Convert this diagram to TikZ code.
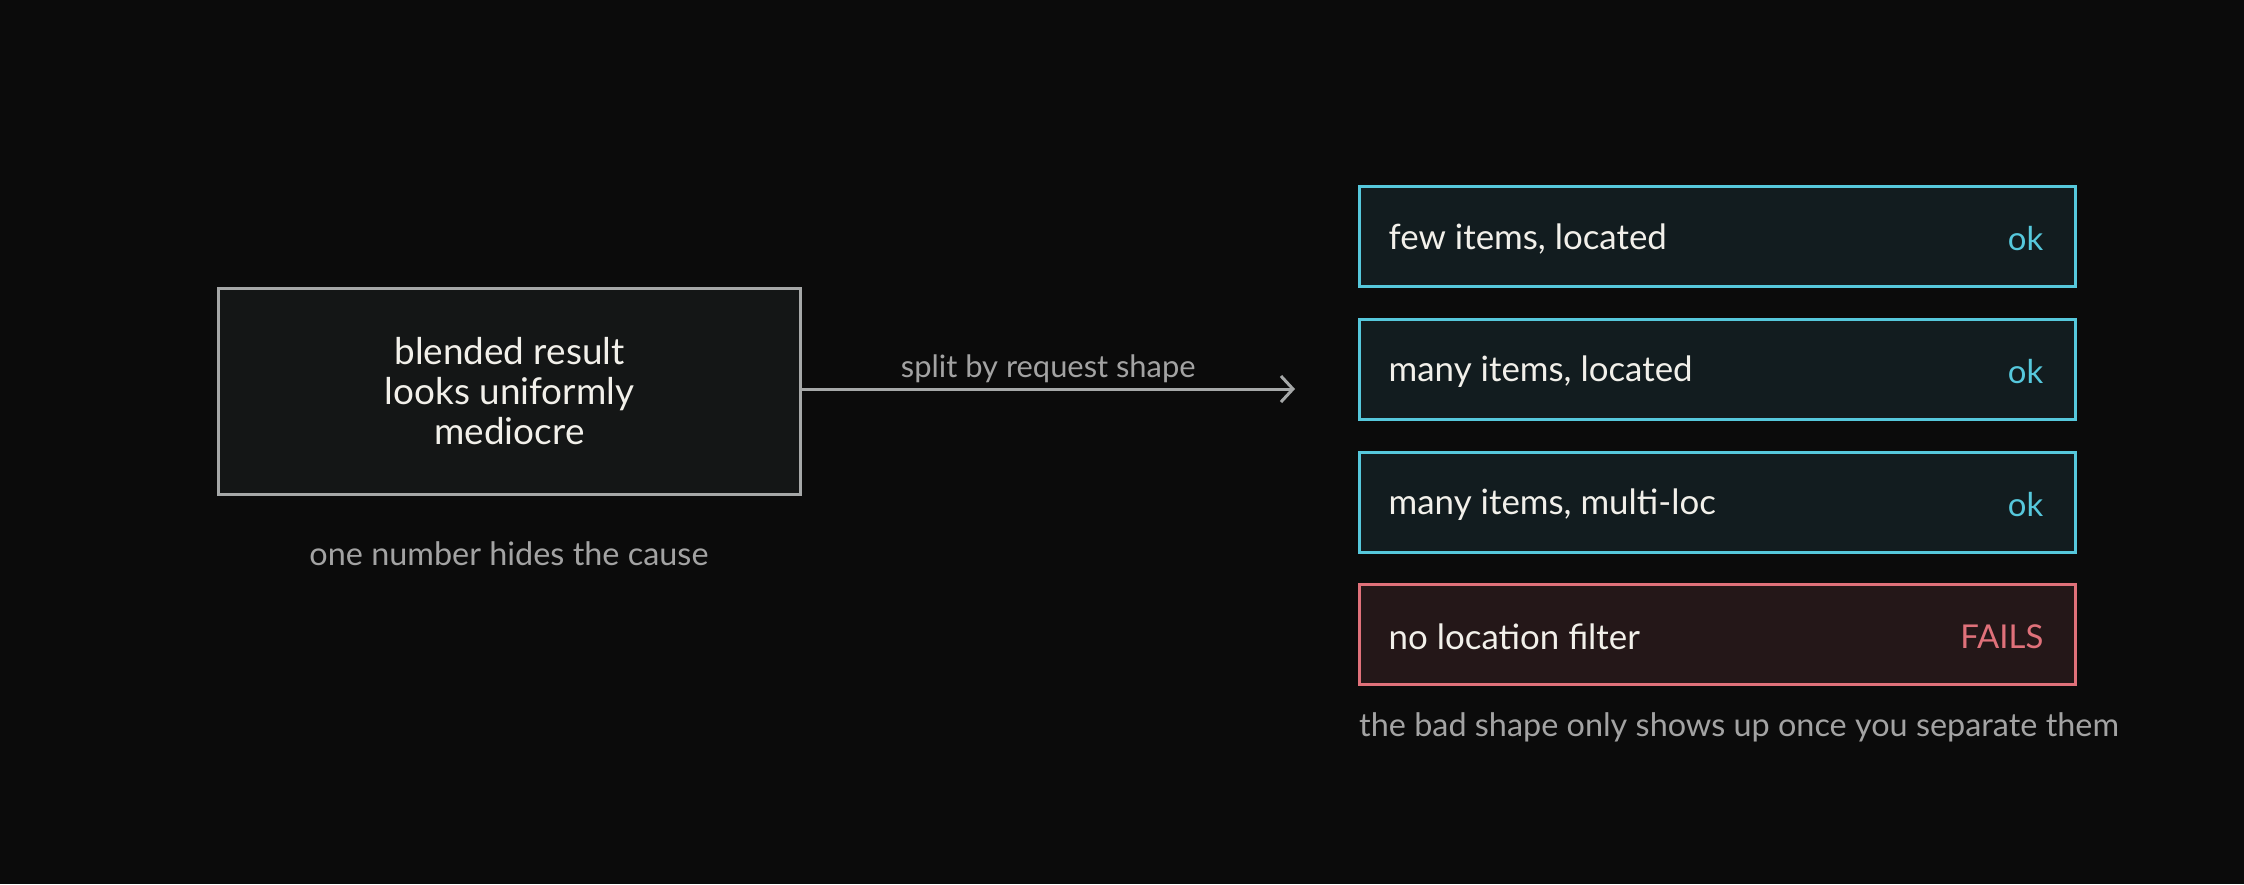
\documentclass[tikz,border=0pt]{standalone}
\usepackage{fontspec}
\setmainfont{Lato}
\usetikzlibrary{arrows.meta}
\definecolor{bg}{HTML}{0B0B0B}
\definecolor{grayline}{HTML}{A6A8A8}
\definecolor{grayfill}{HTML}{141616}
\definecolor{cyanline}{HTML}{56C8DC}
\definecolor{cyanfill}{HTML}{121C1F}
\definecolor{redline}{HTML}{E0717A}
\definecolor{redfill}{HTML}{241718}
\definecolor{maintext}{HTML}{F2F0EA}
\definecolor{captext}{HTML}{A3A3A3}
\tikzset{
  mainbox/.style={draw=grayline, fill=grayfill, line width=3bp, minimum width=581bp, minimum height=206bp, align=center, text=maintext, font=\fontsize{37}{40}\selectfont},
  rowbox/.style={draw=#1line, fill=#1fill, line width=3bp, minimum width=716bp, minimum height=100bp},
  rowlabel/.style={anchor=west, text=maintext, font=\fontsize{35}{40}\selectfont, inner sep=0pt},
  rowstatus/.style={anchor=east, text=#1line, font=\fontsize{33}{38}\selectfont, inner sep=0pt},
  caption/.style={text=captext, font=\fontsize{32.5}{38}\selectfont, inner sep=0pt},
  connector/.style={draw=grayline, line width=3bp, -{Straight Barb[length=12bp, width=26bp, line width=3bp]}},
}
\begin{document}
\begin{tikzpicture}[x=1bp, y=-1bp]
\fill[bg] (0,0) rectangle (2244,884);
\useasboundingbox (0,0) rectangle (2244,884);

\node[mainbox] (blend) at (509.5,391) {blended result\\looks uniformly\\mediocre};
\node[caption] (cap1) at (509,554) {one number hides the cause};

\node[rowbox=cyan] (r1) at (1717,236) {};
\node[rowbox=cyan] (r2) at (1717,369) {};
\node[rowbox=cyan] (r3) at (1717,502) {};
\node[rowbox=red]  (r4) at (1717,634) {};

\node[rowlabel] (l1) at ([xshift=31bp, yshift=-3bp]r1.west) {few items, located};
\node[rowlabel] (l2) at ([xshift=31bp, yshift=-3bp]r2.west) {many items, located};
\node[rowlabel] (l3) at ([xshift=31bp, yshift=-3bp]r3.west) {many items, multi-loc};
\node[rowlabel] (l4) at ([xshift=31bp, yshift=-3bp]r4.west) {no location filter};

\node[rowstatus=cyan] (s1) at ([xshift=-33bp, yshift=-3bp]r1.east) {ok};
\node[rowstatus=cyan] (s2) at ([xshift=-33bp, yshift=-3bp]r2.east) {ok};
\node[rowstatus=cyan] (s3) at ([xshift=-33bp, yshift=-3bp]r3.east) {ok};
\node[rowstatus=red]  (s4) at ([xshift=-33bp, yshift=-3bp]r4.east) {FAILS};

\node[caption, anchor=west] (cap2) at (1359,727) {the bad shape only shows up once you separate them};

\coordinate (tip) at (1295,389);
\draw[connector] (blend.east |- tip) -- node[caption, above=5bp, font=\fontsize{31}{36}\selectfont] (split) {split by request shape} (tip);
\end{tikzpicture}
\end{document}
